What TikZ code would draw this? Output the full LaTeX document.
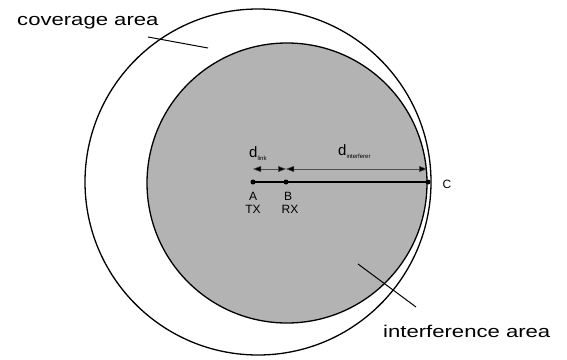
\documentclass[tikz,border=0pt]{standalone}
\usepackage{fontspec}
\setmainfont{Liberation Sans}
\usetikzlibrary{arrows.meta}
\definecolor{areagray}{RGB}{179,179,179}
\begin{document}
\begin{tikzpicture}[x=1pt,y=-1pt,
  circ/.style={line width=1.3pt},
  dotnode/.style={circle,fill=black,inner sep=0pt,minimum size=5pt},
  biglbl/.style={inner sep=0pt,font=\fontsize{17}{17}\selectfont},
  lbl/.style={inner sep=0pt,font=\fontsize{12}{12}\selectfont},
  dimline/.style={line width=0.5pt,black!70,{Triangle[length=8pt,width=6pt,fill=black]}-{Triangle[length=8pt,width=6pt,fill=black]}},
  leader/.style={line width=1pt}
]
\useasboundingbox (0,0) rectangle (567,359);
% circles
\draw[circ] (258,182) circle (173);
\draw[circ,fill=areagray] (287,183) circle (140);
% points
\node[dotnode] (A) at (253,182) {};
\node[dotnode] (B) at (286,182) {};
\node[dotnode] (C) at (428,182) {};
\draw[line width=1.6pt] (A.center) -- (C.center);
% dimension lines
\coordinate (dA) at (253,169);
\coordinate (dB) at (286,169);
\coordinate (dC) at (427,169);
\draw[dimline] (dA) -- (dB);
\draw[dimline] (dB) -- (dC);
% labels
\node[lbl] (Al) at (253,196) {A};
\node[lbl] (TX) at (253,209) {TX};
\node[lbl] (Bl) at (288,196) {B};
\node[lbl] (RX) at (290,209) {RX};
\node[lbl] (Cl) at (447,184) {C};
\node[inner sep=0pt,anchor=west] (d1) at (249,154) {\fontsize{15}{15}\selectfont d\raisebox{-3pt}{\fontsize{6}{6}\selectfont link}};
\node[inner sep=0pt,anchor=west] (d2) at (338,152) {\fontsize{15}{15}\selectfont d\raisebox{-3pt}{\fontsize{6}{6}\selectfont interferer}};
% area labels
\node[biglbl,anchor=west] (cov) at (17,23) {\scalebox{1.3}[1]{coverage area}};
\node[biglbl,anchor=west] (intf) at (383,331) {\scalebox{1.3}[1]{interference area}};
% leaders
\coordinate (cl1) at (148,37);
\coordinate (cl2) at (208,48);
\draw[leader] (cl1) -- (cl2);
\coordinate (il1) at (358,264);
\coordinate (il2) at (416,307);
\draw[leader] (il1) -- (il2);
\end{tikzpicture}
\end{document}
